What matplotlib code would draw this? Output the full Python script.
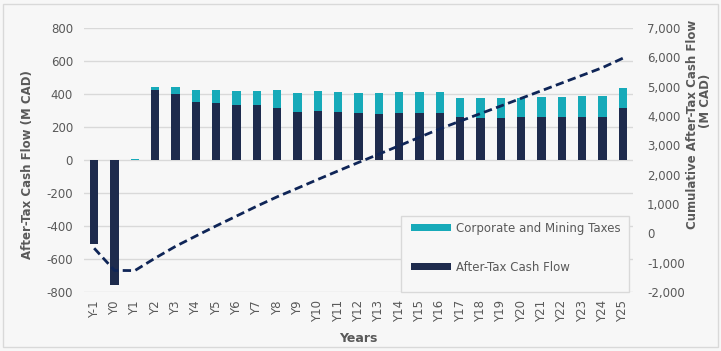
import matplotlib.pyplot as plt
import numpy as np

years = ['Y-1', 'Y0'] + [f'Y{i}' for i in range(1, 26)]
after_tax = [-508, -757, 0, 423, 399, 349, 345, 333, 335, 317, 292, 296, 290, 286,
             280, 286, 286, 286, 260, 256, 256, 259, 259, 260, 260, 260, 317]
taxes = [0, 0, 5, 20, 44, 74, 80, 84, 86, 107, 117, 123, 121, 119,
         129, 127, 127, 129, 117, 121, 121, 118, 122, 121, 125, 127, 119]
cumulative = [-508, -1265, -1270, -845, -444, -93, 254, 589, 926, 1245, 1539, 1837,
              2129, 2417, 2699, 2987, 3275, 3563, 3825, 4083, 4341, 4602, 4863,
              5125, 5387, 5649, 5970]

bg = '#F7F7F7'
navy = '#1E2B4D'
teal = '#17AAB9'
grey = '#595959'

plt.rcParams['font.family'] = 'DejaVu Sans'
plt.rcParams['axes.unicode_minus'] = False

fig = plt.figure(figsize=(7.21, 3.51), dpi=100, facecolor=bg)
ax = fig.add_axes([84 / 721, 1 - 292 / 351, 549 / 721, 264 / 351])
ax.set_facecolor(bg)

x = np.arange(len(years))
ax.bar(x, after_tax, width=0.4, color=navy, label='After-Tax Cash Flow', zorder=3)
ax.bar(x, taxes, width=0.4, bottom=after_tax, color=teal,
       label='Corporate and Mining Taxes', zorder=3)

ax.set_xlim(-0.5, len(years) - 0.5)
ax.set_ylim(-800, 800)
ax.set_yticks(range(-800, 801, 200))
ax.set_xticks(x)
ax.set_xticklabels(years, rotation=90)
ax.grid(axis='y', color='#D9D9D9', linewidth=1, zorder=0)
ax.tick_params(axis='both', length=0, labelsize=8.5, labelcolor=grey)
ax.tick_params(axis='y', pad=8)
ax.tick_params(axis='x', pad=6)
for s in ax.spines.values():
    s.set_visible(False)

# cumulative line on the secondary axis
ax2 = ax.twinx()
ax2.plot(x, cumulative, color='#0F2557', linestyle=(0, (3, 1.6)), linewidth=2, zorder=4)
ax2.set_ylim(-2000, 7000)
ax2.set_yticks(range(-2000, 7001, 1000))
ax2.set_yticklabels([f'{v:,}' for v in range(-2000, 7001, 1000)])
ax2.tick_params(axis='y', length=0, labelsize=8.5, labelcolor=grey, pad=10)
for s in ax2.spines.values():
    s.set_visible(False)

# legend box (entries sit high in the box, like the original)
box_l, box_r, box_h = (401 - 84) / 549, (629 - 84) / 549, 76 / 264
ax2.add_patch(plt.Rectangle((box_l, 0), box_r - box_l, box_h, transform=ax2.transAxes,
                            facecolor=bg, edgecolor='#D9D9D9', linewidth=1, zorder=5,
                            clip_on=False))
handles, labels = ax.get_legend_handles_labels()
leg = ax2.legend(handles[::-1], labels[::-1], loc='upper left',
                 bbox_to_anchor=(box_l + 4 / 549, box_h), fontsize=8.5, frameon=False,
                 handlelength=3.4, handleheight=0.6, labelspacing=2.2,
                 borderpad=0.5, handletextpad=0.4, borderaxespad=0)
leg.set_zorder(6)
for t in leg.get_texts():
    t.set_color(grey)

fig.text(28 / 721, 1 - 165 / 351, 'After-Tax Cash Flow (M CAD)', rotation=90,
         ha='center', va='center', fontsize=8.5, fontweight='bold', color=grey)
fig.text(693 / 721, 1 - 124 / 351, 'Cumulative After-Tax Cash Flow', rotation=90,
         ha='center', va='center', fontsize=8.5, fontweight='bold', color=grey)
fig.text(706 / 721, 1 - 101 / 351, '(M CAD)', rotation=90,
         ha='center', va='center', fontsize=8.5, fontweight='bold', color=grey)
fig.text(358 / 721, 1 - 338 / 351, 'Years', ha='center', va='center',
         fontsize=9, fontweight='bold', color=grey)

border = plt.Rectangle((3 / 721, 4 / 351), 715 / 721, 343 / 351, transform=fig.transFigure,
                       fill=False, edgecolor='#D9D9D9', linewidth=1)
fig.add_artist(border)

fig.savefig('out.png', dpi=100, facecolor=bg)
